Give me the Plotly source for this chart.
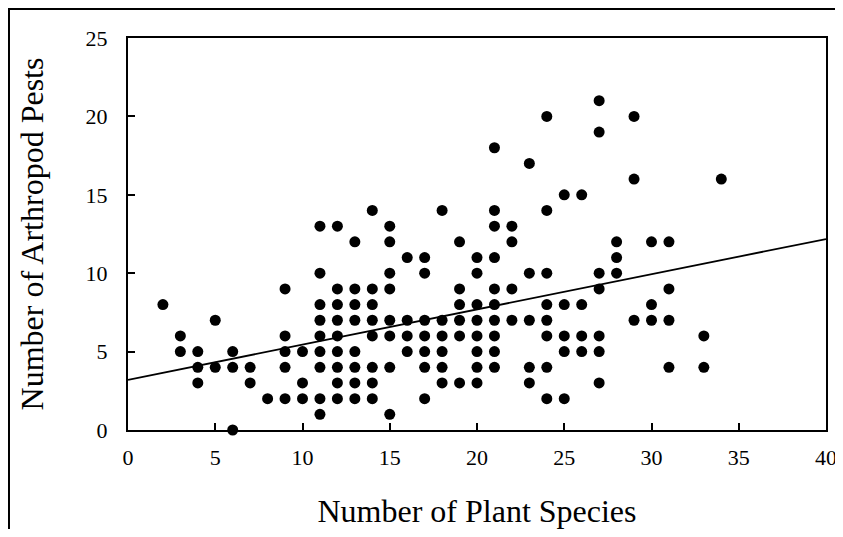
import plotly.graph_objects as go

# Data (x = number of plant species, y = number of arthropod pests)
plant_species = (
    [2] + [3]*2 + [4]*3 + [5]*2 + [6]*3 + [7]*2 + [8] + [9]*5 + [10]*3 +
    [11]*9 + [12]*9 + [13]*8 + [14]*8 + [15]*8 + [16]*4 + [17]*7 + [18]*6 +
    [19]*6 + [20]*8 + [21]*10 + [22]*4 + [23]*5 + [24]*8 + [25]*5 + [26]*4 +
    [27]*7 + [28]*3 + [29]*3 + [30]*3 + [31]*4 + [33]*2 + [34]
)
arthropod_pests = [
    8,
    6, 5,
    5, 4, 3,
    7, 4,
    5, 4, 0,
    4, 3,
    2,
    9, 6, 5, 4, 2,
    5, 3, 2,
    13, 10, 8, 7, 6, 5, 4, 2, 1,
    13, 9, 8, 7, 6, 5, 4, 3, 2,
    12, 9, 8, 7, 5, 4, 3, 2,
    14, 9, 8, 7, 6, 4, 3, 2,
    13, 12, 10, 9, 7, 6, 4, 1,
    11, 7, 6, 5,
    11, 10, 7, 6, 5, 4, 2,
    14, 7, 6, 5, 4, 3,
    12, 9, 8, 7, 6, 3,
    11, 10, 8, 7, 6, 5, 4, 3,
    18, 14, 13, 11, 9, 8, 7, 6, 5, 4,
    13, 12, 9, 7,
    17, 10, 7, 4, 3,
    20, 14, 10, 8, 7, 6, 4, 2,
    15, 8, 6, 5, 2,
    15, 8, 6, 5,
    21, 19, 10, 9, 6, 5, 3,
    12, 11, 10,
    20, 16, 7,
    12, 8, 7,
    12, 9, 7, 4,
    6, 4,
    16,
]

# Regression line
fit_x = [0, 40]
fit_intercept = 3.2
fit_slope = 0.2245
fit_y = [fit_intercept + fit_slope * v for v in fit_x]

x_ticks = [0, 5, 10, 15, 20, 25, 30, 35, 40]
y_ticks = [0, 5, 10, 15, 20, 25]

FONT = "Liberation Serif"

fig = go.Figure()
fig.add_trace(go.Scatter(
    x=plant_species, y=arthropod_pests, mode="markers",
    marker=dict(color="black", size=11, line=dict(width=0)),
    showlegend=False, cliponaxis=False,
))
fig.add_trace(go.Scatter(
    x=fit_x, y=fit_y, mode="lines",
    line=dict(color="black", width=1.8),
    showlegend=False,
))

fig.update_layout(
    width=835, height=521,
    margin=dict(l=120, r=17, t=30, b=99),
    paper_bgcolor="white", plot_bgcolor="white",
    font=dict(family=FONT, color="black", size=22),
    xaxis=dict(
        range=[0, 40], tickvals=x_ticks, ticktext=[str(v) for v in x_ticks],
        ticks="inside", ticklen=7, tickwidth=2, tickcolor="black",
        showline=True, linecolor="black", linewidth=2, mirror=True,
        showgrid=False, zeroline=False, automargin=False,
        ticklabelstandoff=7, ticklabeloverflow="allow",
        tickfont=dict(family=FONT, size=22, color="black"),
        title=dict(text="Number of Plant Species",
                   font=dict(family=FONT, size=32, color="black"), standoff=33),
    ),
    yaxis=dict(
        range=[0, 25], tickvals=y_ticks, ticktext=[str(v) for v in y_ticks],
        ticks="inside", ticklen=7, tickwidth=2, tickcolor="black",
        showline=True, linecolor="black", linewidth=2, mirror=True,
        showgrid=False, zeroline=False, automargin=False,
        ticklabelstandoff=14, ticklabeloverflow="allow",
        tickfont=dict(family=FONT, size=22, color="black"),
        title=dict(text="Number of Arthropod Pests",
                   font=dict(family=FONT, size=32, color="black"), standoff=32),
    ),
    shapes=[
        dict(type="path", xref="paper", yref="paper",
             path="M -0.1705,-0.4 L -0.1705,1.074 L 1.2,1.074",
             line=dict(color="black", width=2)),
    ],
)

fig.write_html("out.html")
